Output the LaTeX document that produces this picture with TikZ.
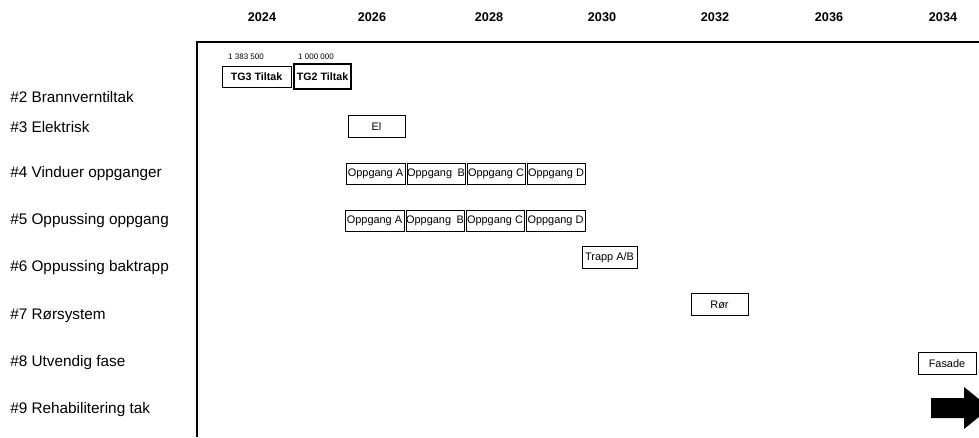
\documentclass[tikz,border=0pt]{standalone}
\usepackage{fontspec}
\setmainfont{Liberation Sans}
\begin{document}
\begin{tikzpicture}[x=0.75pt,y=-0.75pt,
  yr/.style={font=\fontsize{9.5}{11}\selectfont\bfseries, anchor=center},
  rowlbl/.style={font=\fontsize{11.5}{13}\selectfont, anchor=west, inner sep=0pt},
  bar/.style={draw, line width=0.6pt, inner sep=0pt, font=\fontsize{8.2}{10}\selectfont, minimum height=16pt},
  amt/.style={font=\fontsize{6}{7}\selectfont, inner sep=0pt}]
\useasboundingbox (0,0) rectangle (979,437);
% year headers
\node[yr] (y1) at (262,17) {2024};
\node[yr] (y2) at (372,17) {2026};
\node[yr] (y3) at (489,17) {2028};
\node[yr] (y4) at (602,17) {2030};
\node[yr] (y5) at (715,17) {2032};
\node[yr] (y6) at (829,17) {2036};
\node[yr] (y7) at (943,17) {2034};
% axes
\coordinate (o) at (197,42);
\coordinate (r) at (979,42);
\coordinate (b) at (197,437);
\draw[line width=1.5pt] (r) -- (o) -- (b);
% row labels
\node[rowlbl] (l2) at (10,97) {\#2 Brannverntiltak};
\node[rowlbl] (l3) at (10,127) {\#3 Elektrisk};
\node[rowlbl] (l4) at (10,174) {\#4 Vinduer oppganger};
\node[rowlbl] (l5) at (10,221) {\#5 Oppussing oppgang};
\node[rowlbl] (l6) at (10,268) {\#6 Oppussing baktrapp};
\node[rowlbl] (l7) at (10,316) {\#7 Rørsystem};
\node[rowlbl] (l8) at (10,363) {\#8 Utvendig fase};
\node[rowlbl] (l9) at (10,410) {\#9 Rehabilitering tak};
% amounts
\node[amt] (a1) at (246,57) {1 383 500};
\node[amt] (a2) at (316,57) {1 000 000};
% bars
\node[bar, font=\fontsize{8}{9}\selectfont\bfseries, minimum width=51.75pt] (tg3) at (256.5,77) {TG3 Tiltak};
\node[bar, font=\fontsize{8}{9}\selectfont\bfseries, line width=1pt, minimum width=42.75pt, minimum height=18.75pt] (tg2) at (322.5,76.5) {TG2 Tiltak};
\node[bar, minimum width=42.75pt] (el) at (376.5,126.5) {El};
\node[bar, minimum width=44.25pt] (v4a) at (375.5,174) {Oppgang A};
\node[bar, minimum width=43.5pt] (v4b) at (436,174) {Oppgang\enspace B};
\node[bar, minimum width=43.5pt] (v4c) at (496,174) {Oppgang C};
\node[bar, minimum width=43.5pt] (v4d) at (556,174) {Oppgang D};
\node[bar, minimum width=44.25pt] (v5a) at (374.5,221) {Oppgang A};
\node[bar, minimum width=43.5pt] (v5b) at (435,221) {Oppgang\enspace B};
\node[bar, minimum width=43.5pt] (v5c) at (495,221) {Oppgang C};
\node[bar, minimum width=44.25pt] (v5d) at (555.5,221) {Oppgang D};
\node[bar, minimum width=41.25pt] (trapp) at (609.5,257.5) {Trapp A/B};
\node[bar, minimum width=42.75pt] (ror) at (719.5,304.5) {Rør};
\node[bar, minimum width=43.5pt] (fas) at (947,363.5) {Fasade};
% arrow
\fill (931,398) -- (964,398) -- (964,387) -- (990,408) -- (964,429) -- (964,418) -- (931,418) -- cycle;
\end{tikzpicture}
\end{document}
